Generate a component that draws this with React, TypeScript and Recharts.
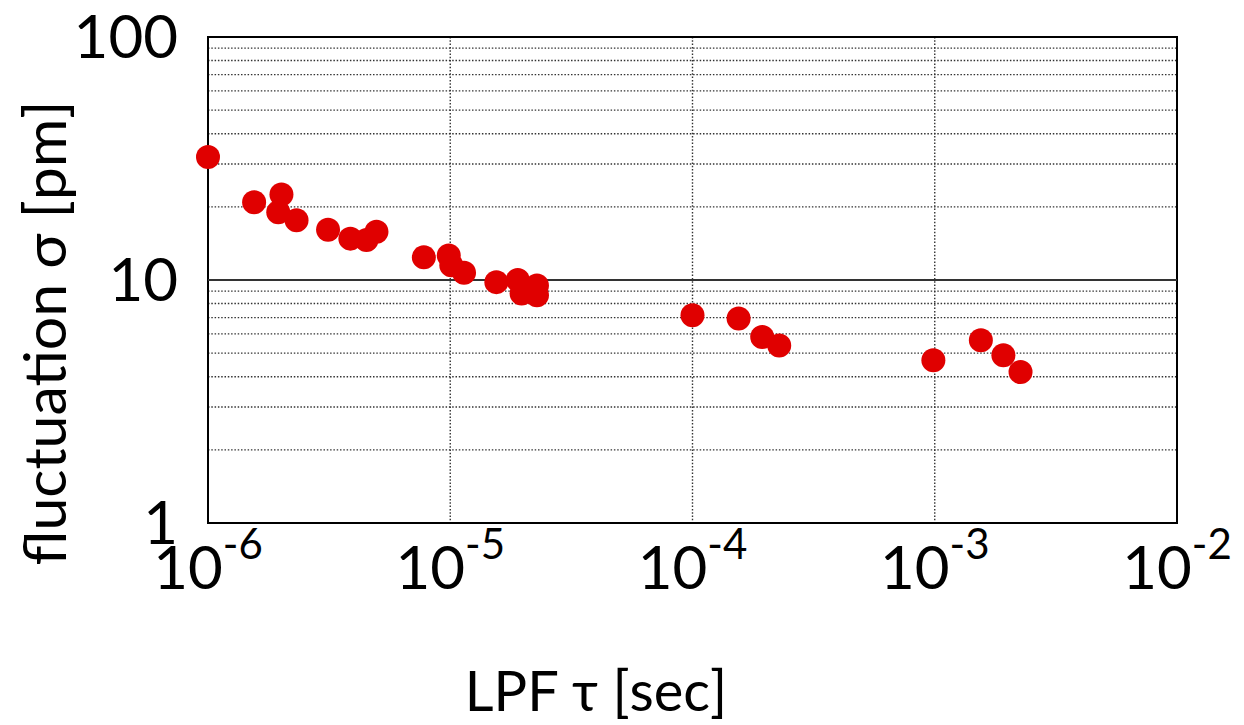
import { CartesianGrid, ReferenceArea, ReferenceLine, Scatter, ScatterChart, XAxis, YAxis } from 'recharts';

const tau = [
  1e-6, 1.55e-6, 2.01e-6, 1.95e-6, 2.32e-6, 3.13e-6, 3.87e-6, 4.51e-6, 4.96e-6,
  7.78e-6, 9.86e-6, 1.01e-5, 1.14e-5, 1.55e-5, 1.9e-5, 1.97e-5, 2.28e-5, 2.28e-5,
  1.0e-4, 1.55e-4, 1.94e-4, 2.28e-4, 9.87e-4, 1.55e-3, 1.92e-3, 2.26e-3,
];
const sigma = [
  32.1, 20.9, 22.5, 19.0, 17.6, 16.1, 14.8, 14.6, 15.8,
  12.4, 12.6, 11.5, 10.7, 9.8, 10.0, 8.8, 9.5, 8.65,
  7.16, 6.94, 5.83, 5.38, 4.67, 5.65, 4.9, 4.18,
];
const xTicks = [1e-6, 1e-5, 1e-4, 1e-3, 1e-2];
const yTicks = [1, 2, 3, 4, 5, 6, 7, 8, 9, 10, 20, 30, 40, 50, 60, 70, 80, 90, 100];
const yLabeled = [1, 10, 100];

const points = tau.map((t, i) => ({ tau: t, sigma: sigma[i] }));

const FONT = 'Lato, "Open Sans", sans-serif';

function XTick(props: any) {
  const { x, y, payload } = props;
  const exp = Math.round(Math.log10(payload.value));
  return (
    <text x={x} y={y + 66} textAnchor="middle" fontSize={60} fontFamily={FONT} fill="#000">
      10
      <tspan dy={-30} fontSize={42}>
        {String(exp)}
      </tspan>
    </text>
  );
}

function YTick(props: any) {
  const { x, y, payload } = props;
  if (!yLabeled.includes(payload.value)) return null;
  return (
    <text x={x} y={y} dy={21} textAnchor="end" fontSize={60} fontFamily={FONT} fill="#000">
      {payload.value}
    </text>
  );
}

function Dot(props: any) {
  return <circle cx={props.cx} cy={props.cy} r={12} fill="#e00000" />;
}

export default function App() {
  return (
    <div style={{ position: 'absolute', left: 0, top: 0, width: 1244, height: 725, background: '#fff', overflow: 'hidden' }}>
      <ScatterChart width={1244} height={725} margin={{ top: 37, right: 67, left: 108, bottom: 102 }}>
        <CartesianGrid stroke="#333" strokeDasharray="1.5 1.8" strokeWidth={1.4} />
        <XAxis
          dataKey="tau"
          type="number"
          scale="log"
          domain={[1e-6, 1e-2]}
          ticks={xTicks}
          height={100}
          tickSize={0}
          tickMargin={0}
          axisLine={false}
          tick={<XTick />}
        />
        <YAxis
          dataKey="sigma"
          type="number"
          scale="log"
          domain={[1, 100]}
          ticks={yTicks}
          width={100}
          tickSize={0}
          tickMargin={30}
          axisLine={false}
          interval={0}
          tick={<YTick />}
        />
        <ReferenceLine y={10} stroke="#333" strokeWidth={2} />
        <ReferenceArea x1={1e-6} x2={1e-2} y1={1} y2={100} fill="none" stroke="#000" strokeWidth={2} />
        <Scatter data={points} shape={<Dot />} isAnimationActive={false} />
      </ScatterChart>
      <div
        style={{
          position: 'absolute',
          left: 596,
          top: 660,
          transform: 'translateX(-50%)',
          fontFamily: FONT,
          fontSize: 56,
          lineHeight: '60px',
          whiteSpace: 'nowrap',
          color: '#000',
        }}
      >
        LPF τ [sec]
      </div>
      <div
        style={{
          position: 'absolute',
          left: 44,
          top: 333,
          transform: 'translate(-50%, -50%) rotate(-90deg)',
          fontFamily: FONT,
          fontSize: 59,
          lineHeight: '64px',
          whiteSpace: 'nowrap',
          color: '#000',
        }}
      >
        fluctuation σ [pm]
      </div>
    </div>
  );
}
